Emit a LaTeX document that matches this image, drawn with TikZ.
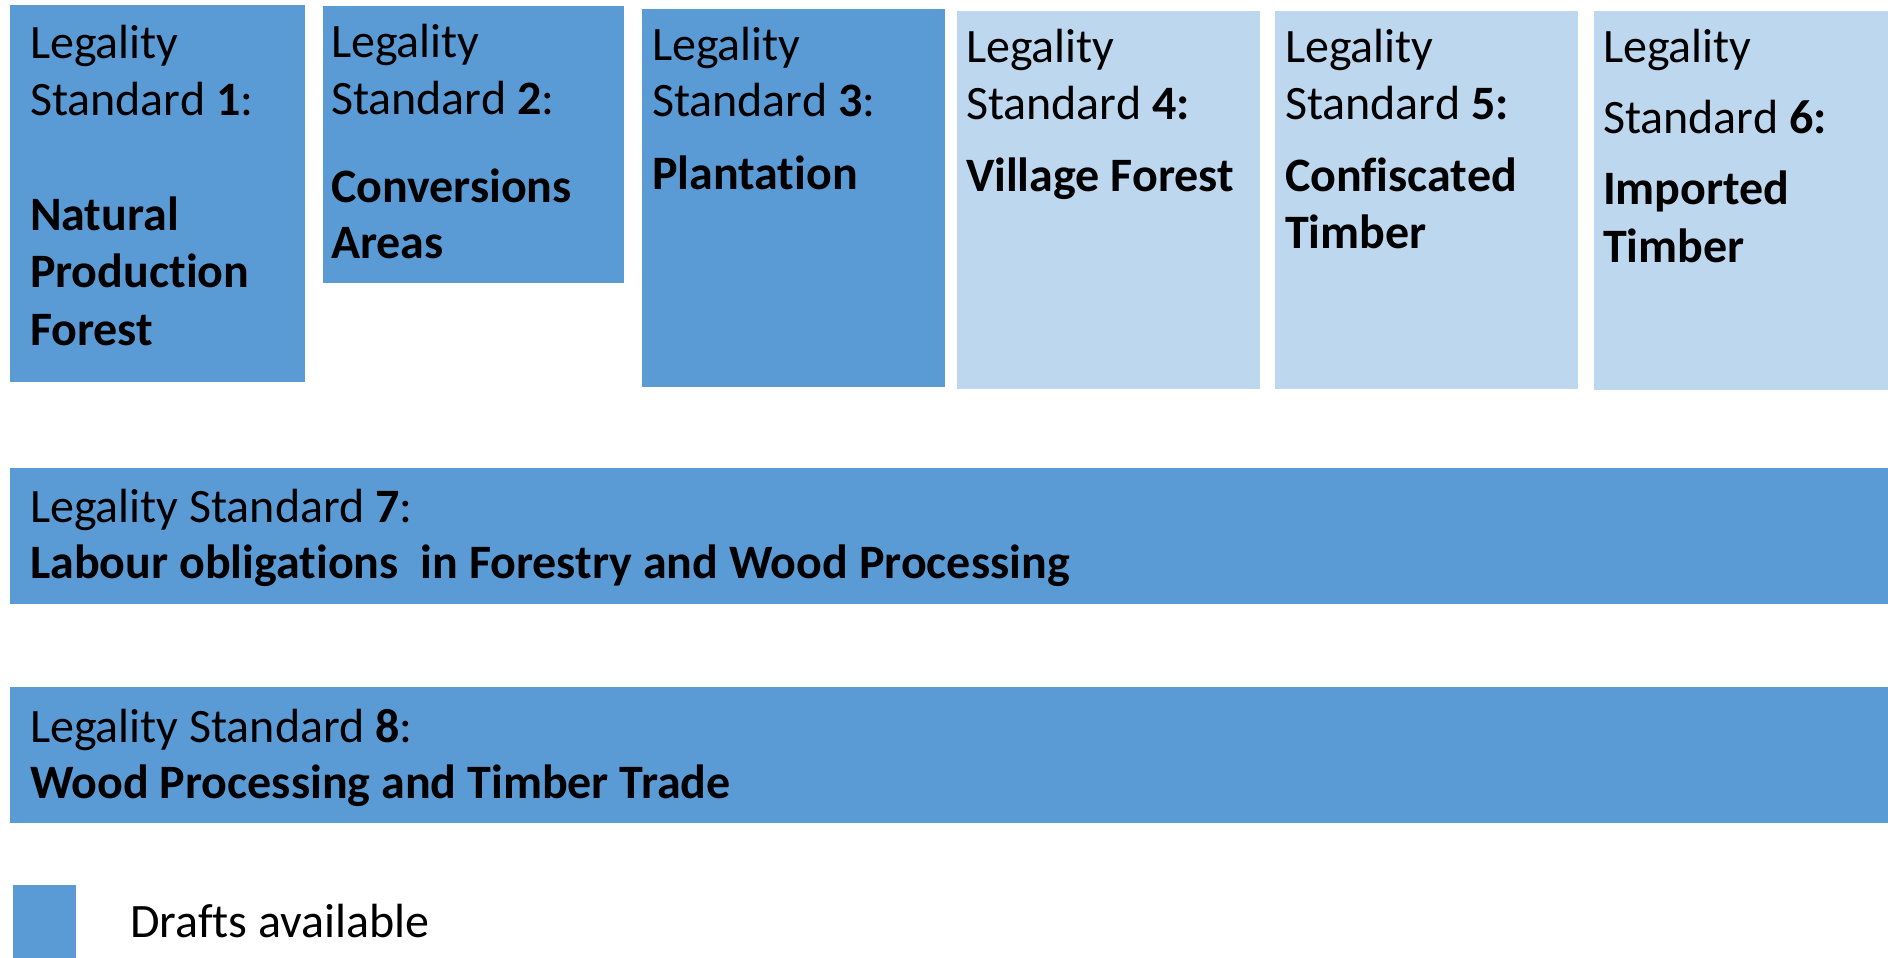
\documentclass[tikz,border=0pt]{standalone}
\usepackage{fontspec}
\setmainfont{Carlito}[Ligatures=NoCommon]
\definecolor{draftblue}{HTML}{5B9BD5}
\definecolor{paleblue}{HTML}{BDD7EE}
\begin{document}
\begin{tikzpicture}[x=1pt,y=-1pt,
  lbl/.style={anchor=base west, inner sep=0pt, outer sep=0pt,
    font=\fontsize{48}{56}\selectfont, text=black}]
\useasboundingbox (0,0) rectangle (1888,958);

% column boxes
\fill[draftblue] (10,5)    rectangle (305,382)  coordinate (b1);
\fill[draftblue] (323,6)   rectangle (624,283)  coordinate (b2);
\fill[draftblue] (642,9)   rectangle (945,387)  coordinate (b3);
\fill[paleblue]  (957,11)  rectangle (1260,389) coordinate (b4);
\fill[paleblue]  (1275,11) rectangle (1578,389) coordinate (b5);
\fill[paleblue]  (1594,11) rectangle (1888,390) coordinate (b6);

% full-width bars
\fill[draftblue] (10,468) rectangle (1888,604) coordinate (b7);
\fill[draftblue] (10,687) rectangle (1888,823) coordinate (b8);

% legend swatch
\fill[draftblue] (13,885) rectangle (76,958) coordinate (lg);

% standard 1
\node[lbl] (t1a) at (30,59)  {Legality};
\node[lbl] (t1b) at (30,115) {Standard \textbf{1}:};
\node[lbl] (t1c) at (30,230) {\textbf{Natural}};
\node[lbl] (t1d) at (30,287) {\textbf{Production}};
\node[lbl] (t1e) at (30,345) {\textbf{Forest}};

% standard 2
\node[lbl] (t2a) at (331,58)  {Legality};
\node[lbl] (t2b) at (331,114) {Standard \textbf{2}:};
\node[lbl] (t2c) at (331,202) {\textbf{Conversions}};
\node[lbl] (t2d) at (331,258) {\textbf{Areas}};

% standard 3
\node[lbl] (t3a) at (652,61)  {Legality};
\node[lbl] (t3b) at (652,117) {Standard \textbf{3}:};
\node[lbl] (t3c) at (652,189) {\textbf{Plantation}};

% standard 4
\node[lbl] (t4a) at (966,63)  {Legality};
\node[lbl] (t4b) at (966,119) {Standard \textbf{4:}};
\node[lbl] (t4c) at (966,191) {\textbf{Village Forest}};

% standard 5
\node[lbl] (t5a) at (1285,63)  {Legality};
\node[lbl] (t5b) at (1285,119) {Standard \textbf{5:}};
\node[lbl] (t5c) at (1285,191) {\textbf{Confiscated}};
\node[lbl] (t5d) at (1285,248) {\textbf{Timber}};

% standard 6
\node[lbl] (t6a) at (1603,63)  {Legality};
\node[lbl] (t6b) at (1603,133) {Standard \textbf{6:}};
\node[lbl] (t6c) at (1603,204) {\textbf{Imported}};
\node[lbl] (t6d) at (1603,262) {\textbf{Timber}};

% standard 7
\node[lbl] (t7a) at (30,522) {Legality Standard \textbf{7}:};
\node[lbl] (t7b) at (30,578) {\textbf{Labour obligations\ \ in Forestry and Wood Processing}};

% standard 8
\node[lbl] (t8a) at (30,742) {Legality Standard \textbf{8}:};
\node[lbl] (t8b) at (30,798) {\textbf{Wood Processing and Timber Trade}};

% legend
\node[lbl] (lgt) at (130,937) {Drafts available};
\end{tikzpicture}
\end{document}
